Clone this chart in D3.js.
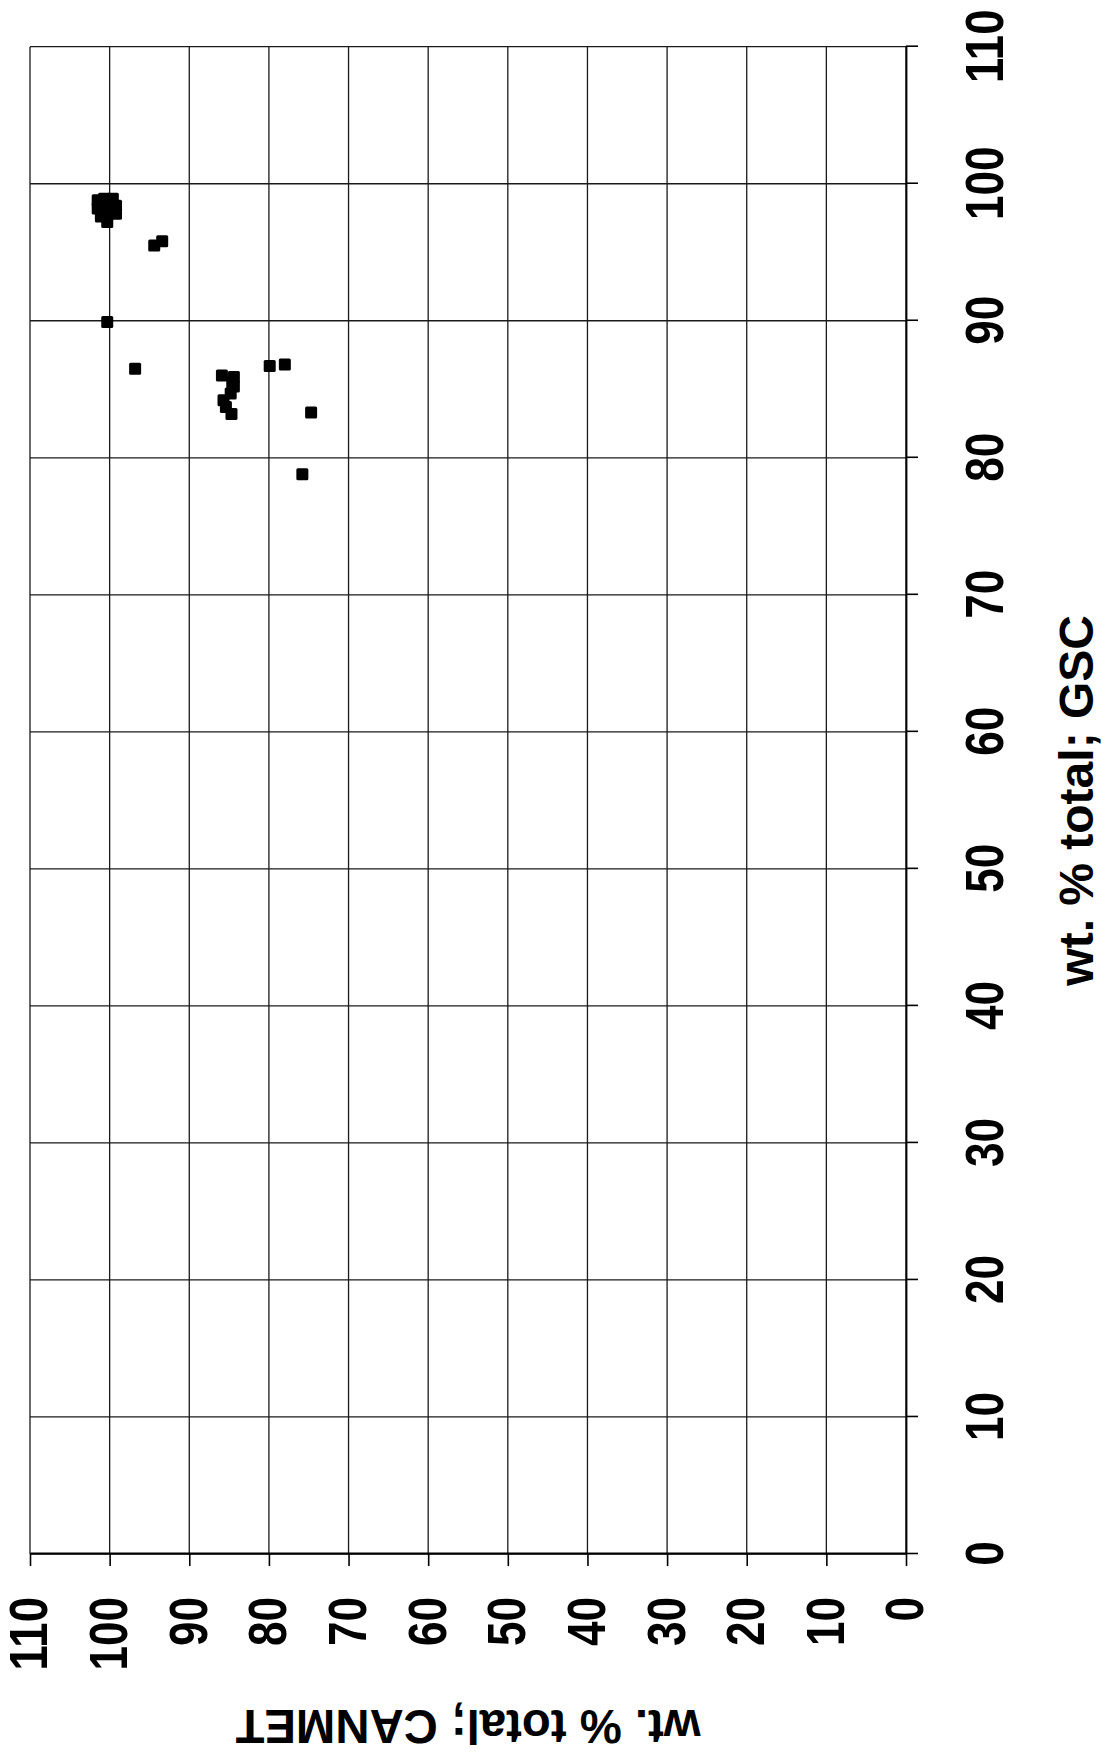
<!DOCTYPE html>
<html><head><meta charset="utf-8">
<script src="https://cdn.jsdelivr.net/npm/d3@7"></script>
<style>body{margin:0;background:#fff}</style>
</head><body><svg id="c" width="1103" height="1760"></svg>
<script>
// Data: (CANMET, GSC) pairs, wt. % total
const canmetValues = [101.5,100.7,99.6,101.5,100.5,99.2,99.2,101.1,100.3,100.3,94.4,93.4,100.3,96.8,85.9,84.6,84.4,84.8,85.7,85.4,84.7,84.4,79.9,78.0,74.7,75.8];
const gscValues    = [98.8,98.9,98.9,98.2,98.3,98.4,97.8,97.6,97.7,97.2,95.5,95.8,89.9,86.5,86.0,85.5,85.2,84.7,84.2,83.7,83.2,85.9,86.7,86.8,83.3,78.8];
const tickValues = [0,10,20,30,40,50,60,70,80,90,100,110];
const xTitle = "wt. % total; GSC";
const yTitle = "wt. % total; CANMET";

const svg = d3.select('#c');
svg.append('rect').attr('width',1103).attr('height',1760).attr('fill','#fff');
// whole chart is drawn in its own frame, then rotated 90° counter-clockwise
const g = svg.append('g').attr('transform','translate(0,1760) rotate(-90)');
const L=206, R=1713.3, T=30, B=906;
const x = d3.scaleLinear().domain([0,110]).range([L,R]);
const y = d3.scaleLinear().domain([0,110]).range([B,T]);
const font = '"Liberation Sans", Arial, sans-serif';

// grid
g.append('g').selectAll('line').data(tickValues).join('line')
  .attr('x1',d=>x(d)).attr('x2',d=>x(d)).attr('y1',T).attr('y2',B)
  .attr('stroke','#1a1a1a').attr('stroke-width',1.3);
g.append('g').selectAll('line').data(tickValues).join('line')
  .attr('x1',L).attr('x2',R).attr('y1',d=>y(d)).attr('y2',d=>y(d))
  .attr('stroke','#1a1a1a').attr('stroke-width',1.3);

// axes
const xAxis = g.append('g').attr('transform',`translate(0,${B})`)
  .call(d3.axisBottom(x).tickValues(tickValues).tickSize(12).tickSizeOuter(0).tickPadding(47).tickFormat(d3.format('d')));
const yAxis = g.append('g').attr('transform',`translate(${L},0)`)
  .call(d3.axisLeft(y).tickValues(tickValues).tickSize(12).tickSizeOuter(0).tickPadding(31).tickFormat(d3.format('d')));
[xAxis,yAxis].forEach(a=>{
  a.attr('font-size',53).attr('font-family',font).attr('font-weight','bold');
  a.select('.domain').attr('stroke','#000').attr('stroke-width',1.8);
  a.selectAll('.tick line').attr('stroke','#000').attr('stroke-width',1.6);
  a.selectAll('.tick text').attr('fill','#000')
    .attr('textLength',d=>String(d).length*24.5).attr('lengthAdjust','spacingAndGlyphs');
});

// points
g.append('g').selectAll('rect').data(d3.range(gscValues.length)).join('rect')
  .attr('x',i=>x(gscValues[i])-6).attr('y',i=>y(canmetValues[i])-6)
  .attr('width',12).attr('height',12).attr('rx',1.5).attr('fill','#000');

// titles
g.append('text').attr('x',(L+R)/2).attr('y',1093).attr('text-anchor','middle')
  .attr('font-family',font).attr('font-weight','bold').attr('font-size',48)
  .text(xTitle);
g.append('text').attr('transform',`translate(50,${(T+B)/2}) rotate(-90)`).attr('text-anchor','middle')
  .attr('font-family',font).attr('font-weight','bold').attr('font-size',48)
  .attr('textLength',465).attr('lengthAdjust','spacingAndGlyphs')
  .text(yTitle);
</script></body></html>
